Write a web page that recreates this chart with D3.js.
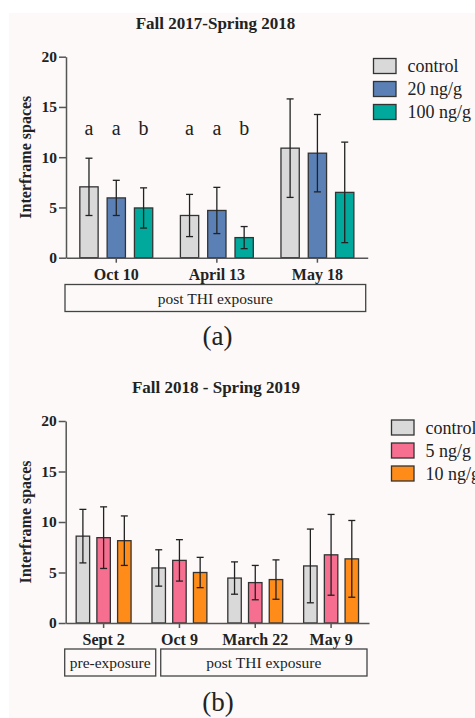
<!DOCTYPE html>
<head>
  <meta charset="utf-8" />
  <script src="https://d3js.org/d3.v7.min.js"></script>
  <style>
    body { margin: 0; background: #fff; }
    svg { display: block; }
    text { font-family: "Liberation Serif", serif; fill: #222; }
  </style>
</head>
<body>
  <script>
    // panel (a) data
    var seriesA = ["control", "20 ng/g", "100 ng/g"];
    var datesA = ["Oct 10", "April 13", "May 18"];
    var meansA = [[7.05, 4.2, 10.9], [5.95, 4.7, 10.4], [4.95, 2.0, 6.5]];
    var errA = [[2.85, 2.1, 4.9], [1.75, 2.3, 3.85], [2.0, 1.1, 5.0]];
    var lettersA = [["Oct 10", "a", "a", "b"], ["April 13", "a", "a", "b"]];
    var boxesA = [["post THI exposure", "Oct 10", "May 18"]];

    // panel (b) data
    var seriesB = ["control", "5 ng/g", "10 ng/g"];
    var datesB = ["Sept 2", "Oct 9", "March 22", "May 9"];
    var meansB = [[8.6, 5.45, 4.45, 5.65], [8.45, 6.2, 4.0, 6.75], [8.15, 5.0, 4.3, 6.35]];
    var errB = [[2.65, 1.8, 1.6, 3.65], [3.05, 2.05, 1.7, 4.0], [2.45, 1.5, 1.95, 3.8]];
    var boxesB = [["pre-exposure", "Sept 2", "Sept 2"], ["post THI exposure", "Oct 9", "May 9"]];

    var yTicks = [0, 5, 10, 15, 20];

    var width = 475, height = 718;

    var svg = d3.select("body").append("svg")
      .attr("width", width)
      .attr("height", height);

    // warm page background behind the figure
    svg.append("rect")
      .attr("x", 9).attr("y", 13)
      .attr("width", width - 9).attr("height", height - 13)
      .attr("fill", "#fcf9f8");

    function drawPanel(p) {
      var g = svg.append("g");

      var y = d3.scaleLinear().domain([0, 20]).range([p.bottom, p.top]);
      var x = d3.scaleBand().domain(p.dates).range([p.left, p.right]);
      var inner = d3.scaleBand().domain(p.series)
        .range([-p.groupW / 2, p.groupW / 2]).paddingInner(p.pad);
      var color = d3.scaleOrdinal().domain(p.series).range(p.colors);
      var cx = function (d) { return x(d) + x.bandwidth() / 2; };

      // title
      g.append("text")
        .attr("x", p.titleX).attr("y", p.titleY)
        .attr("text-anchor", "middle")
        .attr("font-weight", "bold")
        .attr("font-size", 17)
        .text(p.title);

      // bars
      var rows = [];
      p.series.forEach(function (s, i) {
        p.dates.forEach(function (dt, j) {
          rows.push({ s: s, date: dt, v: p.means[i][j], e: p.errs[i][j] });
        });
      });

      g.selectAll("rect.bar").data(rows).join("rect")
        .attr("class", "bar")
        .attr("x", function (d) { return cx(d.date) + inner(d.s); })
        .attr("y", function (d) { return y(d.v); })
        .attr("width", inner.bandwidth())
        .attr("height", function (d) { return y(0) - y(d.v); })
        .attr("fill", function (d) { return color(d.s); })
        .attr("stroke", "#333")
        .attr("stroke-width", 1.3);

      // error bars
      var eb = g.selectAll("g.err").data(rows).join("g")
        .attr("class", "err")
        .attr("stroke", "#222")
        .attr("stroke-width", 1.3)
        .attr("transform", function (d) {
          return "translate(" + (cx(d.date) + inner(d.s) + inner.bandwidth() / 2) + ",0)";
        });
      eb.append("line")
        .attr("y1", function (d) { return y(d.v + d.e); })
        .attr("y2", function (d) { return y(Math.max(0, d.v - d.e)); });
      eb.append("line").attr("x1", -3.5).attr("x2", 3.5)
        .attr("y1", function (d) { return y(d.v + d.e); })
        .attr("y2", function (d) { return y(d.v + d.e); });
      eb.append("line").attr("x1", -3.5).attr("x2", 3.5)
        .attr("y1", function (d) { return y(Math.max(0, d.v - d.e)); })
        .attr("y2", function (d) { return y(Math.max(0, d.v - d.e)); });

      // y axis
      var ya = g.append("g")
        .attr("transform", "translate(" + p.left + ",0)")
        .call(d3.axisLeft(y).tickValues(yTicks).tickSize(7).tickSizeOuter(0).tickPadding(2));
      ya.selectAll("text")
        .attr("font-family", "Liberation Serif")
        .attr("font-weight", "bold")
        .attr("font-size", 15.5)
        .attr("fill", "#222");

      // x axis
      var xa = g.append("g")
        .attr("transform", "translate(0," + p.bottom + ")")
        .call(d3.axisBottom(x).tickSize(5).tickSizeOuter(0).tickPadding(6));
      xa.selectAll("text")
        .attr("font-family", "Liberation Serif")
        .attr("font-weight", "bold")
        .attr("font-size", 16)
        .attr("fill", "#222");

      [ya, xa].forEach(function (a) {
        a.select(".domain").attr("stroke", "#555").attr("stroke-width", 1.5);
        a.selectAll(".tick line").attr("stroke", "#555").attr("stroke-width", 1.5);
      });

      // axis title
      g.append("text")
        .attr("transform", "translate(31," + (p.top + p.bottom) / 2 + ") rotate(-90)")
        .attr("text-anchor", "middle")
        .attr("font-weight", "bold")
        .attr("font-size", 16)
        .text("Interframe spaces");

      // significance letters
      if (p.letters) {
        p.letters.forEach(function (l) {
          p.series.forEach(function (s, i) {
            g.append("text")
              .attr("x", cx(l[0]) + inner(s) + inner.bandwidth() / 2)
              .attr("y", y(12.25))
              .attr("text-anchor", "middle")
              .attr("font-size", 20)
              .text(l[i + 1]);
          });
        });
      }

      // exposure boxes under the axis
      p.boxes.forEach(function (b, k) {
        var x0 = k === 0 ? p.left - 1 : x(b[1]) + p.split + 2.5;
        var x1 = k === p.boxes.length - 1 ? p.right - 2 : x(p.dates[p.dates.indexOf(b[2]) + 1]) + p.split - 2.5;
        g.append("rect")
          .attr("x", x0).attr("y", p.boxY)
          .attr("width", x1 - x0).attr("height", 27)
          .attr("fill", "none")
          .attr("stroke", "#444")
          .attr("stroke-width", 1.3);
        g.append("text")
          .attr("x", (x0 + x1) / 2).attr("y", p.boxY + 19)
          .attr("text-anchor", "middle")
          .attr("font-size", 15.5)
          .text(b[0]);
      });

      // legend
      var lg = g.selectAll("g.leg").data(p.series).join("g")
        .attr("class", "leg")
        .attr("transform", function (d, i) {
          return "translate(" + p.legX + "," + (p.legY + i * 23) + ")";
        });
      lg.append("rect")
        .attr("width", 22.5).attr("height", 15)
        .attr("fill", function (d) { return color(d); })
        .attr("stroke", "#333")
        .attr("stroke-width", 1.3);
      lg.append("text")
        .attr("x", 34).attr("y", 13.5)
        .attr("font-size", 18)
        .text(function (d) { return d; });

      // panel tag
      g.append("text")
        .attr("x", p.titleX + 2).attr("y", p.tagY)
        .attr("text-anchor", "middle")
        .attr("font-family", "Noto Sans")
        .attr("font-size", 27)
        .text(p.tag);
    }

    drawPanel({
      title: "Fall 2017-Spring 2018", titleX: 215.5, titleY: 29,
      series: seriesA, dates: datesA, means: meansA, errs: errA,
      letters: lettersA, boxes: boxesA,
      colors: ["#d9d9d9", "#5b80b6", "#00a99b"],
      left: 66, right: 367.7, top: 56.7, bottom: 257.7,
      groupW: 72.9, pad: 0.33, split: 0,
      boxY: 284.5, legX: 373.5, legY: 58.5, tag: "(a)", tagY: 345
    });

    drawPanel({
      title: "Fall 2018 - Spring 2019", titleX: 216, titleY: 392.5,
      series: seriesB, dates: datesB, means: meansB, errs: errB,
      boxes: boxesB,
      colors: ["#d9d9d9", "#f76f90", "#ff8c19"],
      left: 65.7, right: 369, top: 421, bottom: 623,
      groupW: 54.9, pad: 0.35, split: 16.7,
      boxY: 649, legX: 391.5, legY: 420, tag: "(b)", tagY: 711
    });
  </script>
</body>
